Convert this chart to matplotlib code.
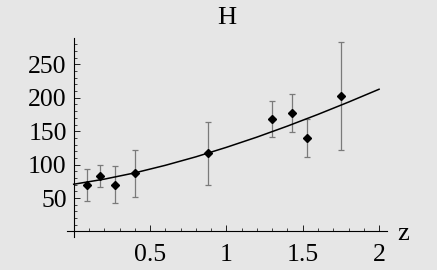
import matplotlib
matplotlib.use("Agg")
import matplotlib.pyplot as plt
from matplotlib.ticker import MultipleLocator, FixedLocator

# Observational H(z) data (value and error bar half-length)
z_data = [0.09, 0.17, 0.27, 0.40, 0.88, 1.30, 1.43, 1.53, 1.75]
H_data = [69, 83, 70, 87, 117, 168, 177, 140, 202]
H_err = [24, 16, 28, 34.8, 46.8, 26.8, 28.4, 28, 80.8]

# Model curve values
z_curve = [0.0, 0.2, 0.4, 0.6, 0.8, 1.0, 1.2, 1.4, 1.6, 1.8, 2.0]
H_curve = [70.7, 78.3, 87.7, 99.0, 111.7, 125.9, 141.2, 157.7, 175.2, 193.6, 212.8]

x_ticks = [0.5, 1, 1.5, 2]
x_ticklabels = ["0.5", "1", "1.5", "2"]
y_ticks = [50, 100, 150, 200, 250]

bg = "#e6e6e6"
plt.rcParams['font.family'] = ['Liberation Serif', 'DejaVu Serif']

fig = plt.figure(figsize=(4.37, 2.70), dpi=100, facecolor=bg)
ax = fig.add_axes([0.1526, 0.1233, 0.7323, 0.7348], facecolor=bg)

ax.plot(z_curve, H_curve, color="black", lw=1.1, zorder=2)
ax.errorbar(z_data, H_data, yerr=H_err, fmt="none", ecolor="#7a7a7a",
            elinewidth=0.9, capsize=2.0, capthick=0.9, zorder=1)
ax.plot(z_data, H_data, linestyle="none", marker="D", ms=4.5,
        color="black", zorder=3)

ax.set_xlim(-0.046, 2.05)
ax.set_ylim(-7.8, 289)

for s in ["top", "right"]:
    ax.spines[s].set_visible(False)
ax.spines["left"].set_position(("data", 0))
ax.spines["bottom"].set_position(("data", 0))
for s in ["left", "bottom"]:
    ax.spines[s].set_linewidth(0.8)
    ax.spines[s].set_color("black")

ax.xaxis.set_major_locator(FixedLocator(x_ticks))
ax.set_xticklabels(x_ticklabels)
ax.xaxis.set_minor_locator(MultipleLocator(0.1))
ax.yaxis.set_major_locator(FixedLocator(y_ticks))
ax.yaxis.set_minor_locator(MultipleLocator(10))

ax.tick_params(axis="both", which="major", direction="in", length=4,
               width=0.6, labelsize=18.5)
ax.tick_params(axis="both", which="minor", direction="in", length=2,
               width=0.5)
ax.tick_params(axis="x", which="major", pad=9)
ax.tick_params(axis="y", which="major", pad=5)

ax.set_title("H", fontsize=19, pad=10)
ax.text(2.12, -3, "z", fontsize=19, ha="left", va="center",
        transform=ax.transData, clip_on=False)

fig.savefig("out.png", dpi=100, facecolor=bg)
